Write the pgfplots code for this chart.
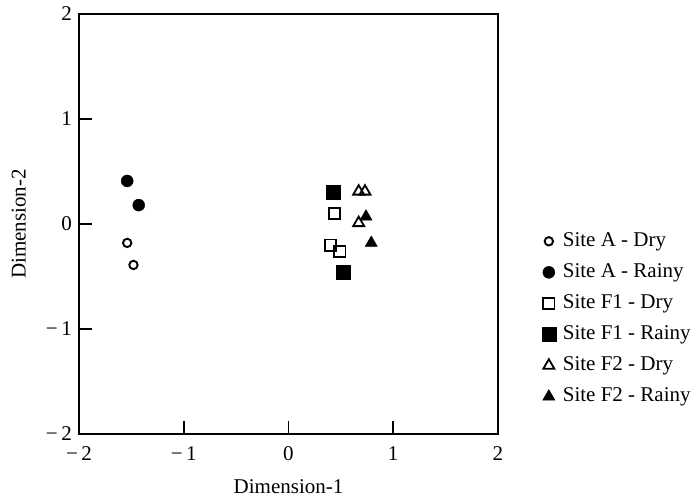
\documentclass[border=0pt]{standalone}
\usepackage{pgfplots}
\pgfplotsset{compat=1.18}
\usepackage{fontspec}
\setmainfont{Liberation Serif}
\begin{document}
\fontsize{21}{24}\selectfont
\begin{tikzpicture}[x=1pt,y=1pt]
\useasboundingbox (-79,-65) rectangle (617,434);
\begin{axis}[
  at={(0,0)}, anchor=south west,
  scale only axis, width=419pt, height=420pt,
  xmin=-2, xmax=2, ymin=-2, ymax=2,
  xtick={-2,-1,0,1,2}, ytick={-2,-1,0,1,2},
  xticklabels={{−\,2},{−\,1},0,1,2},
  yticklabels={{−\,2},{−\,1},0,1,2},
  tick align=inside, xtick pos=bottom, ytick pos=left,
  major tick length=13pt,
  tick style={line width=1.6pt, black},
  axis line style={line width=1.6pt},
  every axis label/.append style={font=\fontsize{21}{24}\selectfont},
  ticklabel style={font=\fontsize{21}{24}\selectfont},
  xticklabel style={yshift=-5pt},
  xlabel={Dimension-1}, ylabel={Dimension-2},
  xlabel style={yshift=-5pt},
  ylabel style={yshift=6pt},
  legend style={draw=none, at={(1.097,0.274)}, anchor=west,
    font=\fontsize{21}{24}\selectfont, row sep=10pt, cells={anchor=west},
    nodes={inner xsep=7pt}},
  legend cell align=left,
]
\addplot[only marks, mark=o, mark size=4.2pt, mark options={line width=1.9pt, black}] coordinates {(-1.54,-0.18) (-1.48,-0.39)};
\addlegendentry{Site A - Dry}
\addplot[only marks, mark=*, mark size=6pt, mark options={black, fill=black}] coordinates {(-1.54,0.41) (-1.43,0.18)};
\addlegendentry{Site A - Rainy}
\addplot[only marks, mark=square, mark size=5.6pt, mark options={line width=1.8pt, black}] coordinates {(0.44,0.10) (0.40,-0.20) (0.49,-0.26)};
\addlegendentry{Site F1 - Dry}
\addplot[only marks, mark=square*, mark size=7pt, mark options={black, fill=black}] coordinates {(0.43,0.30) (0.52,-0.46)};
\addlegendentry{Site F1 - Rainy}
\addplot[only marks, mark=triangle, mark size=6.3pt, mark options={line width=1.8pt, black}] coordinates {(0.67,0.31) (0.73,0.31) (0.67,0.01)};
\addlegendentry{Site F2 - Dry}
\addplot[only marks, mark=triangle*, mark size=7pt, mark options={black, fill=black}] coordinates {(0.74,0.07) (0.79,-0.18)};
\addlegendentry{Site F2 - Rainy}
\end{axis}
\end{tikzpicture}
\end{document}
